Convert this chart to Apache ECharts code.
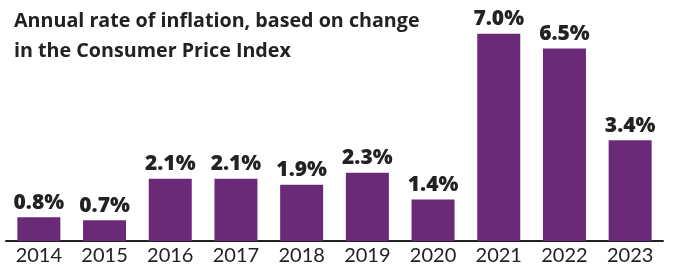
<!DOCTYPE html>
<html>
<head>
<meta charset="utf-8">
<script src="https://cdn.jsdelivr.net/npm/echarts@6/dist/echarts.min.js"></script>
<style>html,body{margin:0;padding:0;background:#fff;}#c{width:673px;height:268px;}</style>
</head>
<body>
<div id="c"></div>
<script>
const categories = ['2014','2015','2016','2017','2018','2019','2020','2021','2022','2023'];
const inflation = [0.8, 0.7, 2.1, 2.1, 1.9, 2.3, 1.4, 7.0, 6.5, 3.4];
const titleLines = ['Annual rate of inflation, based on change', 'in the Consumer Price Index'];

const chart = echarts.init(document.getElementById('c'), null, {renderer: 'canvas'});
chart.setOption({
  animation: false,
  backgroundColor: '#fff',
  title: {
    text: titleLines.join('\n'),
    left: 9, top: 1,
    textStyle: {fontFamily: 'Open Sans', fontWeight: 'bold', fontSize: 19.7, lineHeight: 30, color: '#222'}
  },
  grid: {left: 6, right: 10, top: 4, bottom: 27, containLabel: false},
  xAxis: {
    type: 'category',
    data: categories,
    axisLine: {lineStyle: {color: '#222', width: 2}},
    axisTick: {show: false},
    axisLabel: {fontFamily: 'Lato', fontSize: 20, color: '#222', margin: 5}
  },
  yAxis: {
    type: 'value', min: 0, max: 8,
    show: false,
    splitLine: {show: false}
  },
  series: [{
    type: 'bar',
    data: inflation,
    barWidth: 43,
    itemStyle: {color: '#6a2a78'},
    label: {
      show: true, position: 'top', distance: 4,
      formatter: p => p.value.toFixed(1) + '%',
      fontFamily: 'Open Sans', fontWeight: 800, fontSize: 21, color: '#222'
    }
  }]
});
</script>
</body>
</html>
